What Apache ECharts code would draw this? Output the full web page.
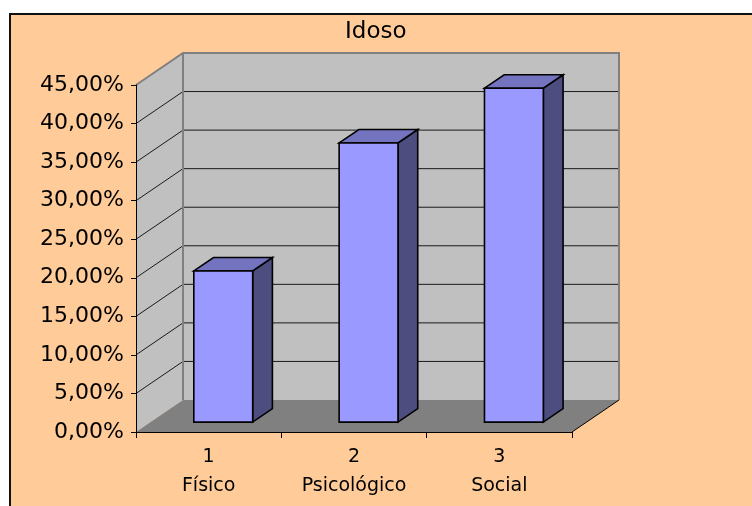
<!DOCTYPE html>
<html>
<head>
<meta charset="utf-8">
<script src="https://cdn.jsdelivr.net/npm/echarts@6/dist/echarts.min.js"></script>
<style>
html,body{margin:0;padding:0;background:#fff;overflow:hidden;}
#frame{position:absolute;left:9px;top:13px;width:800px;height:600px;background:#ffcc99;border-top:2px solid #111;border-left:2px solid #111;box-sizing:border-box;}
#chart{position:absolute;left:0;top:0;width:752px;height:506px;}
</style>
</head>
<body>
<div id="frame"></div>
<div id="chart"></div>
<script>
// ---- data ----
const title = 'Idoso';
const categories = ['1', '2', '3'];
const categoryNames = ['Físico', 'Psicológico', 'Social'];
const values = [19.6, 36.2, 43.3];
const yTicks = [0, 5, 10, 15, 20, 25, 30, 35, 40, 45];

// ---- 3D look (pixel offsets of the depth axis) ----
const DX = 47, DY = -32;      // full depth of the plot box
const F1 = 0.31, F2 = 0.73;   // bar front / back position within the depth
const BAR_FRAC = 0.405;       // bar width as share of a category band
const FONT = 'DejaVu Sans';

const chart = echarts.init(document.getElementById('chart'), null, {renderer: 'canvas'});

function renderWalls(params, api) {
  const cs = params.coordSys;
  const x0 = cs.x, x1 = cs.x + cs.width, yT = cs.y, yB = cs.y + cs.height;
  const ch = [];
  // left side wall
  ch.push({type: 'polygon', shape: {points: [[x0, yB], [x0, yT], [x0 + DX, yT + DY], [x0 + DX, yB + DY]]},
    style: {fill: '#c0c0c0'}});
  // back wall
  ch.push({type: 'rect', shape: {x: x0 + DX, y: yT + DY, width: cs.width, height: cs.height},
    style: {fill: '#c0c0c0'}});
  // floor
  ch.push({type: 'polygon', shape: {points: [[x0, yB], [x1, yB], [x1 + DX, yB + DY], [x0 + DX, yB + DY]]},
    style: {fill: '#808080'}});
  // gridlines
  yTicks.forEach(function (v) {
    if (v === yTicks[0] || v === yTicks[yTicks.length - 1]) return;
    const y = api.coord([0, v])[1];
    ch.push({type: 'polyline', shape: {points: [[x0, y], [x0 + DX, y + DY], [x1 + DX, y + DY]]},
      style: {stroke: '#1a1a1a', lineWidth: 1, fill: null}});
  });
  // wall edges
  ch.push({type: 'polyline', shape: {points: [[x0, yT], [x0 + DX, yT + DY], [x1 + DX, yT + DY], [x1 + DX, yB + DY]]},
    style: {stroke: '#808080', lineWidth: 2, fill: null}});
  ch.push({type: 'line', shape: {x1: x0 + DX, y1: yT + DY, x2: x0 + DX, y2: yB + DY},
    style: {stroke: '#808080', lineWidth: 2}});
  // floor right edge
  ch.push({type: 'line', shape: {x1: x1, y1: yB, x2: x1 + DX, y2: yB + DY},
    style: {stroke: '#000', lineWidth: 1}});
  return {type: 'group', children: ch};
}

function renderBar(params, api) {
  const i = api.value(0);
  const base = api.coord([i, 0]);
  const top = api.coord([i, api.value(1)]);
  const bw = api.size([1, 0])[0] * BAR_FRAC;
  const fx = base[0] - bw / 2 + F1 * DX;
  const fy0 = base[1] + F1 * DY;
  const fy1 = top[1] + F1 * DY;
  const ddx = (F2 - F1) * DX, ddy = (F2 - F1) * DY;
  const st = {stroke: '#000', lineWidth: 1.6, lineJoin: 'miter'};
  return {type: 'group', children: [
    {type: 'polygon', shape: {points: [[fx + bw, fy1], [fx + bw + ddx, fy1 + ddy], [fx + bw + ddx, fy0 + ddy], [fx + bw, fy0]]},
      style: Object.assign({fill: '#4d4d80'}, st)},
    {type: 'polygon', shape: {points: [[fx, fy1], [fx + bw, fy1], [fx + bw + ddx, fy1 + ddy], [fx + ddx, fy1 + ddy]]},
      style: Object.assign({fill: '#7373c0'}, st)},
    {type: 'rect', shape: {x: fx, y: fy1, width: bw, height: fy0 - fy1},
      style: Object.assign({fill: '#9999ff'}, st)}
  ]};
}

const option = {
  animation: false,
  title: {
    text: title, left: 340, top: 16,
    textStyle: {fontFamily: FONT, fontSize: 23, fontWeight: 'normal', color: '#000'}
  },
  grid: {left: 136, top: 85, width: 436, height: 347},
  xAxis: {
    type: 'category', data: categories, z: 10,
    axisLine: {lineStyle: {color: '#000', width: 1}},
    axisTick: {show: true, length: 6, lineStyle: {color: '#000'}},
    axisLabel: {
      margin: 11, lineHeight: 29, fontFamily: FONT, fontSize: 19, color: '#000',
      formatter: function (v, idx) { return v + '\n' + categoryNames[idx]; }
    },
    splitLine: {show: false}
  },
  yAxis: {
    type: 'value', min: 0, max: 45, interval: 5, z: 10,
    axisLine: {show: true, lineStyle: {color: '#000', width: 1}},
    axisTick: {show: true, length: 5, lineStyle: {color: '#000'}},
    axisLabel: {
      margin: 12, fontFamily: FONT, fontSize: 22, color: '#000',
      formatter: function (v) { return v.toFixed(2).replace('.', ',') + '%'; }
    },
    splitLine: {show: false}
  },
  series: [
    {type: 'custom', name: 'walls', z: 1, renderItem: renderWalls, data: [[0, 0]], silent: true},
    {type: 'custom', name: 'Idoso', z: 3, renderItem: renderBar,
      data: values.map(function (v, i) { return [i, v]; })}
  ]
};
chart.setOption(option);
</script>
</body>
</html>
